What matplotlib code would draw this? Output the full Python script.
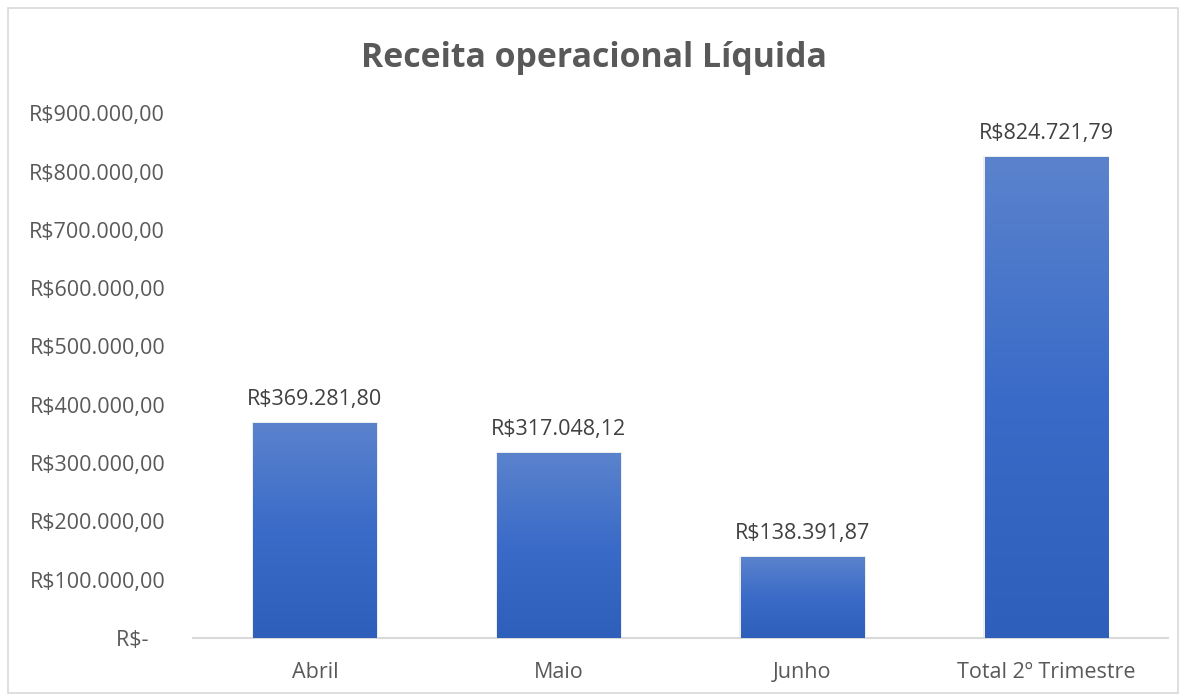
import numpy as np
import matplotlib.pyplot as plt
from matplotlib.colors import LinearSegmentedColormap
from matplotlib.patches import Rectangle
from matplotlib.ticker import FuncFormatter

# data
meses = ["Abril", "Maio", "Junho", "Total 2º Trimestre"]
receita = [369281.80, 317048.12, 138391.87, 824721.79]
y_ticks = [0, 100000, 200000, 300000, 400000, 500000, 600000, 700000, 800000, 900000]

plt.rcParams['font.family'] = ['Open Sans', 'DejaVu Sans']


def brl(v, pos=None):
    # formato R$ brasileiro
    if v == 0:
        return "R$-   "
    s = f"{v:,.2f}"
    s = s.replace(",", "X").replace(".", ",").replace("X", ".")
    return "R$" + s


def main():
    fig = plt.figure(figsize=(11.86, 6.95), dpi=100)
    ax = fig.add_axes([0.1627, 0.082, 0.8223, 0.755])

    # borda do grafico
    fig.patches.append(Rectangle((8 / 1186, 2 / 695), 1170 / 1186, 685 / 695,
                                 transform=fig.transFigure, fill=False,
                                 edgecolor='#d9d9d9', linewidth=1.2))

    x = np.arange(len(meses))
    width = 0.505
    bars = ax.bar(x, receita, width=width, color='#4472c4', linewidth=0, zorder=2)

    cmap = LinearSegmentedColormap.from_list('grad', ['#2e5fba', '#3a6bc8', '#5b83cd'])
    grad = np.linspace(0, 1, 256).reshape(-1, 1)
    for b in bars:
        bx, by = b.get_x(), b.get_y()
        bw, bh = b.get_width(), b.get_height()
        # sombra
        ax.add_patch(Rectangle((bx - 0.006, by), bw + 0.012, bh + 2000,
                               facecolor='#000000', alpha=0.07, edgecolor='none', zorder=1))
        im = ax.imshow(grad, extent=[bx, bx + bw, by, by + bh], origin='lower',
                       cmap=cmap, aspect='auto', zorder=3)
        im.set_clip_path(b)

    for xi, v in zip(x, receita):
        ax.text(xi, v + 22000, brl(v), ha='center', va='bottom',
                fontsize=15.5, color='#404040')

    ax.set_xlim(-0.5, 3.5)
    ax.set_ylim(0, 900000)
    ax.set_yticks(y_ticks)
    ax.yaxis.set_major_formatter(FuncFormatter(brl))
    ax.set_xticks(x)
    ax.set_xticklabels(meses)
    ax.tick_params(axis='both', length=0, labelsize=15.5, labelcolor='#595959')
    ax.tick_params(axis='y', pad=20)
    ax.tick_params(axis='x', pad=17)

    for s in ['top', 'right', 'left']:
        ax.spines[s].set_visible(False)
    ax.spines['bottom'].set_color('#d9d9d9')
    ax.spines['bottom'].set_linewidth(1.5)

    fig.text(0.5004, 0.916, "Receita operacional Líquida", ha='center', va='center',
             fontsize=24.4, fontweight='bold', color='#595959')

    fig.savefig("out.png", dpi=100)


if __name__ == "__main__":
    main()
